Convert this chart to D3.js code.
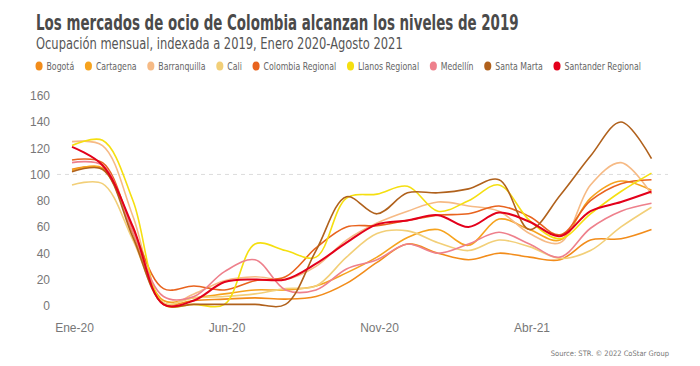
<!DOCTYPE html>
<html><head><meta charset="utf-8">
<script src="https://cdn.jsdelivr.net/npm/d3@7"></script>
<style>
body{margin:0;background:#fff;}
svg{display:block;font-family:"Liberation Sans Narrow","DejaVu Sans Condensed","Roboto",sans-serif;}
</style></head>
<body><svg id="c" width="700" height="366"></svg>
<script>
const months = ["Ene-20","Feb-20","Mar-20","Abr-20","May-20","Jun-20","Jul-20","Ago-20","Sep-20","Oct-20","Nov-20","Dic-20","Ene-21","Feb-21","Mar-21","Abr-21","May-21","Jun-21","Jul-21","Ago-21"];
const tickMonths = ["Ene-20","Jun-20","Nov-20","Abr-21"];
const yTicks = [0,20,40,60,80,100,120,140,160];
const seriesNames = ["Bogotá","Cartagena","Barranquilla","Cali","Colombia Regional","Llanos Regional","Medellín","Santa Marta","Santander Regional"];
const seriesColors = ["#f28c1a","#f6a31e","#f6ba85","#f2cf78","#e8631e","#f5df10","#ee808c","#b0611c","#e3001b"];
const bogota       = [104,104,55,2,4,5,6,5,7,17,33,47,40,35,40,37,35,50,51,58];
const cartagena    = [103,105,56,4,6,9,12,12,15,25,37,52,58,46,66,58,50,82,95,88];
const barranquilla = [125,122,68,1,9,19,22,20,30,50,63,72,79,76,72,55,48,92,109,85];
const cali         = [92,93,50,2,6,7,9,13,15,37,55,57,48,42,50,45,36,42,60,75];
const colombiaReg  = [111,109,58,13,15,12,19,22,44,60,61,65,69,70,76,68,54,80,93,96];
const llanosReg    = [122,126,80,1,1,1,47,42,37,82,85,91,72,80,92,65,51,70,87,101];
const medellin     = [109,107,56,7,7,26,35,12,12,28,35,47,40,47,56,47,37,59,72,78];
const santaMarta   = [102,104,52,1,1,1,1,1,42,83,70,86,86,89,96,58,84,114,140,112];
const santander    = [121,107,60,1,4,18,20,20,32,48,62,65,69,60,71,64,53,72,79,87];
const seriesValues = [bogota,cartagena,barranquilla,cali,colombiaReg,llanosReg,medellin,santaMarta,santander];

const svg = d3.select("#c");
const x = d3.scaleLinear().domain([0, months.length-1]).range([72, 651.5]);
const y = d3.scaleLinear().domain([0,160]).range([305.7, 95.7]);

function fitText(sel, x0, target){
  const w = sel.node().getComputedTextLength();
  const k = Math.min(1, target / w);
  sel.attr("x",0).attr("transform",`translate(${x0},0) scale(${k},1)`);
}

// title
const title = svg.append("text").attr("y",30).attr("font-size",21).attr("font-weight",600)
  .attr("fill","#4a4a4a").text("Los mercados de ocio de Colombia alcanzan los niveles de 2019");
fitText(title, 36, 483);
const sub = svg.append("text").attr("y",49).attr("font-size",15)
  .attr("fill","#555").text("Ocupación mensual, indexada a 2019, Enero 2020-Agosto 2021");
fitText(sub, 36, 367);

// legend
const lg = svg.append("g");
let lx = 40;
seriesNames.forEach((n,i)=>{
  const g = lg.append("g");
  g.append("circle").attr("cx",lx).attr("cy",66).attr("r",4.5).attr("fill",seriesColors[i]);
  const t = g.append("text").attr("x",lx+9.5).attr("y",70).attr("font-size",11).attr("fill","#666").text(n);
  const w = t.node().getComputedTextLength();
  lx = lx + 9.5 + w + 18;
});
const lgW = lx - 18 - 35.5;
lg.attr("transform", `translate(35.5,0) scale(${(641-35.5)/lgW},1) translate(-35.5,0)`);

// y axis
const yAxis = d3.axisLeft(y).tickValues(yTicks).tickSize(0).tickPadding(0);
const ya = svg.append("g").attr("transform","translate(50,0)").call(yAxis);
ya.select(".domain").remove();
ya.selectAll("text").attr("font-size",12).attr("fill","#777").style("font-family","inherit");

// x axis
const xAxis = d3.axisBottom(x).tickValues(tickMonths.map(m=>months.indexOf(m)))
  .tickFormat(i=>months[i]).tickSize(0).tickPadding(0);
const xa = svg.append("g").attr("transform","translate(2,323)").call(xAxis);
xa.select(".domain").remove();
xa.selectAll("text").attr("font-size",12).attr("fill","#777").style("font-family","inherit");

// reference line at 100
svg.append("line").attr("x1",57).attr("x2",668).attr("y1",y(100)).attr("y2",y(100))
  .attr("stroke","#dcdcdc").attr("stroke-dasharray","4,4").attr("stroke-width",1);

// lines
const line = d3.line().x((d,i)=>x(i)).y(d=>y(d)).curve(d3.curveCatmullRom.alpha(0.5));
seriesValues.forEach((vals,i)=>{
  svg.append("path").datum(vals).attr("d",line).attr("fill","none")
    .attr("stroke",seriesColors[i]).attr("stroke-width", i===8?2:1.6);
});

// source
svg.append("text").attr("x",669).attr("y",356).attr("text-anchor","end").attr("font-size",7.5)
  .attr("fill","#777").text("Source: STR. © 2022 CoStar Group");
</script></body></html>
